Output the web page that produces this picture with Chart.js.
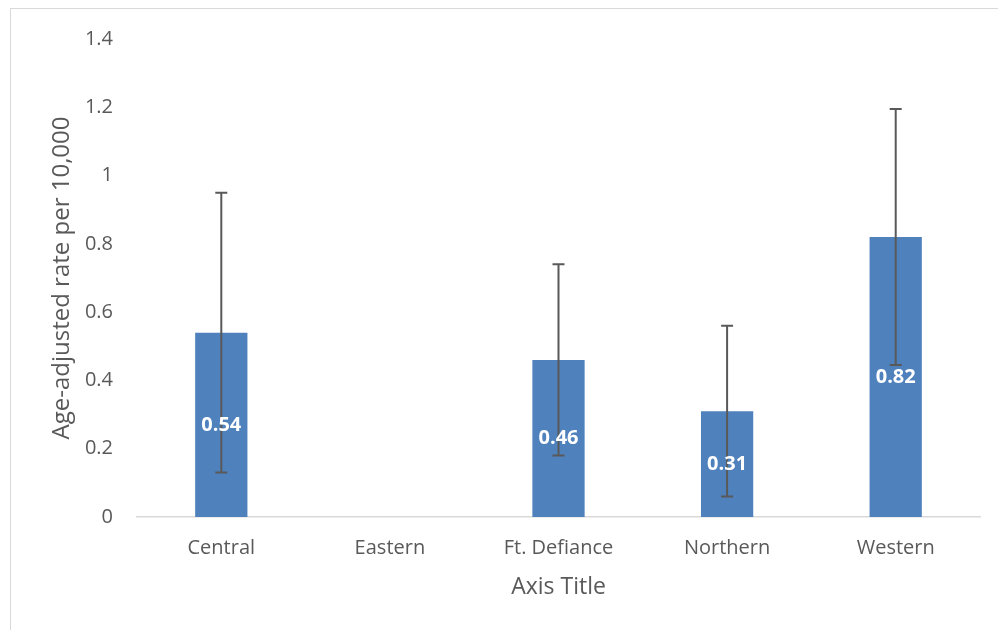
<!DOCTYPE html>
<html>
<head>
<meta charset="utf-8">
<script src="https://cdn.jsdelivr.net/npm/chart.js@4.4.1/dist/chart.umd.min.js"></script>
<style>
  html, body { margin: 0; padding: 0; background: #fff; }
  #wrap { position: relative; width: 998px; height: 630px; overflow: hidden; }
  #frame { position: absolute; left: 10px; top: 8px; width: 1000px; height: 640px;
           border-left: 1px solid #d9d9d9; border-top: 1px solid #d9d9d9; box-sizing: border-box; }
  canvas { position: absolute; left: 0; top: 0; }
</style>
</head>
<body>
<div id="wrap">
  <div id="frame"></div>
  <canvas id="c" width="998" height="630"></canvas>
</div>
<script>
const categories = ["Central", "Eastern", "Ft. Defiance", "Northern", "Western"];
const rates = [0.54, null, 0.46, 0.31, 0.82];
const errorPlus = [0.41, null, 0.28, 0.25, 0.375];
const errorMinus = [0.41, null, 0.28, 0.25, 0.375];
const yTicks = [0, 0.2, 0.4, 0.6, 0.8, 1, 1.2, 1.4];

const FONT = "'Open Sans', 'Noto Sans', sans-serif";
const TEXT = "#595959";

const overlay = {
  id: "overlay",
  afterDatasetsDraw(chart) {
    const ctx = chart.ctx;
    const meta = chart.getDatasetMeta(0);
    const y = chart.scales.y;
    ctx.save();
    meta.data.forEach((bar, i) => {
      const v = rates[i];
      if (v === null || v === undefined) return;
      const x = bar.x;
      // error bar
      const top = y.getPixelForValue(v + errorPlus[i]);
      const bot = y.getPixelForValue(v - errorMinus[i]);
      ctx.strokeStyle = "#595959";
      ctx.lineWidth = 2;
      ctx.beginPath();
      ctx.moveTo(x, top); ctx.lineTo(x, bot);
      ctx.moveTo(x - 6, top); ctx.lineTo(x + 6, top);
      ctx.moveTo(x - 6, bot); ctx.lineTo(x + 6, bot);
      ctx.stroke();
      // data label (centered in bar, drawn above the error bar)
      ctx.fillStyle = "#ffffff";
      ctx.font = "bold 20px " + FONT;
      ctx.textAlign = "center";
      ctx.textBaseline = "middle";
      ctx.fillText(v.toFixed(2), x, y.getPixelForValue(v / 2));
    });
    ctx.restore();
  }
};

new Chart(document.getElementById("c"), {
  type: "bar",
  data: {
    labels: categories,
    datasets: [{
      data: rates,
      backgroundColor: "#4F81BD",
      borderWidth: 0,
      categoryPercentage: 1,
      barPercentage: 0.31
    }]
  },
  options: {
    responsive: false,
    animation: false,
    devicePixelRatio: 1,
    layout: { padding: { top: 39, right: 18, bottom: 0, left: 0 } },
    plugins: { legend: { display: false }, tooltip: { enabled: false } },
    scales: {
      x: {
        grid: { display: false, drawTicks: false },
        border: { display: true, color: "#d9d9d9", width: 1.5 },
        ticks: { color: TEXT, font: { family: FONT, size: 20 }, padding: 19, maxRotation: 0 },
        title: { display: true, text: "Axis Title", color: TEXT,
                 font: { family: FONT, size: 23 }, padding: { top: 4, bottom: 29 } },
        afterFit(scale) { scale.height = 113; }
      },
      y: {
        min: 0, max: 1.4,
        afterBuildTicks(scale) { scale.ticks = yTicks.map(v => ({ value: v })); },
        grid: { display: false, drawTicks: false },
        border: { display: false },
        ticks: { color: TEXT, font: { family: FONT, size: 20 }, padding: 24,
                 callback: v => String(v) },
        title: { display: true, text: "Age-adjusted rate per 10,000", color: TEXT,
                 font: { family: FONT, size: 24 }, padding: { top: 48, bottom: 4 } },
        afterFit(scale) { scale.width = 137; }
      }
    }
  },
  plugins: [overlay]
});
</script>
</body>
</html>
